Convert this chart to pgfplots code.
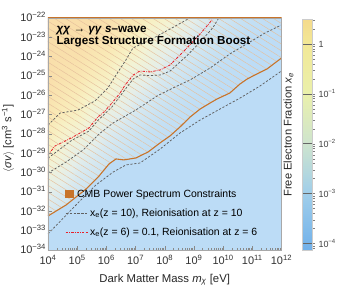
\documentclass[border=0pt]{standalone}
\usepackage{fontspec}
\setmainfont{Liberation Sans}
\usepackage{pgfplots}
\pgfplotsset{compat=1.18}
\usetikzlibrary{patterns.meta}

\definecolor{cmb}{HTML}{C8742A}
\definecolor{hatchc}{HTML}{E6C09C}
\definecolor{dashcol}{HTML}{606060}
\definecolor{redc}{HTML}{E8202A}
\definecolor{bgblue}{HTML}{BCDCF6}
\definecolor{framec}{HTML}{A8A8A8}
\definecolor{tickc}{HTML}{8A8A8A}

\tikzset{dashc/.style={color=dashcol, line width=0.75bp, dash pattern=on 2.2bp off 1.7bp},
         redd/.style={color=redc, line width=0.85bp, dash pattern=on 2.4bp off 1.2bp on 0.6bp off 1.2bp}}

\pgfplotsset{
 colormap={light}{rgb255(0pt)=(188,220,246); rgb255(83pt)=(198,225,243); rgb255(163pt)=(214,232,240);
   rgb255(213pt)=(228,238,234); rgb255(313pt)=(242,243,214); rgb255(363pt)=(247,241,198);
   rgb255(413pt)=(249,233,182); rgb255(463pt)=(249,222,170)},
 colormap={cbar}{rgb255(0pt)=(112,176,234); rgb255(13pt)=(118,180,234); rgb255(113pt)=(160,206,234);
   rgb255(213pt)=(206,228,206); rgb255(313pt)=(234,240,172); rgb255(413pt)=(242,232,150);
   rgb255(463pt)=(244,218,140)}
}

\def\xminors{3.95}
\foreach \n in {4,...,11}{%
  \foreach \k in {0.30103,0.47712,0.60206,0.69897,0.77815,0.84510,0.90309,0.95424}{%
    \pgfmathparse{\n+\k}\xdef\xminors{\xminors,\pgfmathresult}}}
\def\cminors{-5}
\foreach \n in {-5,...,0}{%
  \foreach \k in {0.30103,0.47712,0.60206,0.69897,0.77815,0.84510,0.90309,0.95424}{%
    \pgfmathparse{\n+\k}\xdef\cminors{\cminors,\pgfmathresult}}}

\begin{document}
\begin{tikzpicture}
\begin{axis}[
  name=ax, scale only axis, width=233.5bp, height=232bp,
  xmin=4, xmax=12, ymin=-34, ymax=-22,
  axis on top,
  xtick={4,...,12},
  xticklabels={10\textsuperscript{4},10\textsuperscript{5},10\textsuperscript{6},10\textsuperscript{7},10\textsuperscript{8},10\textsuperscript{9},10\textsuperscript{10},10\textsuperscript{11},10\textsuperscript{12}},
  minor xtick/.expand once=\xminors,
  ytick={-34,-33,...,-22},
  yticklabels={10\textsuperscript{−34},10\textsuperscript{−33},10\textsuperscript{−32},10\textsuperscript{−31},10\textsuperscript{−30},10\textsuperscript{−29},10\textsuperscript{−28},10\textsuperscript{−27},10\textsuperscript{−26},10\textsuperscript{−25},10\textsuperscript{−24},10\textsuperscript{−23},10\textsuperscript{−22}},
  tick align=inside, tick pos=left,
  major tick length=4bp, minor tick length=2.2bp,
  tick style={tickc, line width=0.5bp},
  axis line style={framec, line width=0.6bp},
  every tick label/.append style={font=\fontsize{11}{13}\selectfont, text=black!80},
  yticklabel style={xshift=1.5bp, yshift=0.8bp},
  xticklabel style={yshift=-1.5bp},
  every axis x label/.style={at={(axis description cs:0.5,-0.138)}, anchor=base, font=\fontsize{11.4}{13}\selectfont, text=black!85},
  every axis y label/.style={at={(axis description cs:-0.171,0.48)}, anchor=center, rotate=90, font=\fontsize{11.2}{13}\selectfont, text=black!85},
  xlabel={Dark Matter Mass \textit{m}\textsubscript{\textit{χ}} [eV]},
  ylabel={$\langle$\textit{σv}$\rangle$ [cm\textsuperscript{3} s\textsuperscript{−1}]},
  colormap name=cbar,
  point meta min=-4.13, point meta max=0.5,
  colorbar,
  colorbar style={
    at={(parent axis.north east)}, anchor=north west,
    xshift=12.5bp, yshift=-1bp,
    scale only axis, width=10bp, height=231bp,
    xtick=\empty,
    ytick={-4,-3,-2,-1,0},
    yticklabels={10\textsuperscript{−4},10\textsuperscript{−3},10\textsuperscript{−2},10\textsuperscript{−1},1},
    minor ytick/.expand once=\cminors,
    ymajorgrids, major grid style={black!60, line width=0.6bp},
    tick align=outside, major tick length=2.5bp, minor tick length=2bp,
    ytick pos=right, yticklabel pos=right,
    tick style={black!50, line width=0.4bp},
    axis line style={draw=black!20, line width=0.4bp},
    yticklabel style={font=\fontsize{9}{10}\selectfont, text=black!75},
    every axis y label/.style={at={(axis description cs:-1.4,0.5)}, anchor=center, rotate=90, font=\fontsize{11.2}{13}\selectfont, text=black!85},
    ylabel={Free Electron Fraction \textit{x}\textsubscript{\textit{e}}},
  },
  legend cell align=left,
  legend style={draw=none, fill=none, at={(0.0728,0.27)}, anchor=north west, inner sep=0pt,
    font=\fontsize{10.5}{12}\selectfont, row sep=6bp},
]
% colour field of x_e
\addplot[surf, shader=interp, mesh/ordering=y varies, point meta=explicit, colormap name=light, forget plot]
 table[x=lx, y=ly, meta=L] {
lx ly L
4 -34 -3.30
4 -33 -2.87
4 -32 -2.43
4 -31 -2.00
4 -30 -1.25
4 -29 -0.50
4 -28 -0.18
4 -27 0.14
4 -26 0.37
4 -25 0.50
4 -24 0.50
4 -23 0.50
4 -22 0.50

5 -34 -4.02
5 -33 -3.62
5 -32 -3.21
5 -31 -2.78
5 -30 -2.35
5 -29 -1.85
5 -28 -1.10
5 -27 -0.44
5 -26 -0.12
5 -25 0.20
5 -24 0.39
5 -23 0.50
5 -22 0.50

6 -34 -4.10
6 -33 -4.10
6 -32 -3.94
6 -31 -3.54
6 -30 -3.13
6 -29 -2.69
6 -28 -2.26
6 -27 -1.70
6 -26 -0.95
6 -25 -0.37
6 -24 -0.05
6 -23 0.27
6 -22 0.42

7 -34 -4.10
7 -33 -4.10
7 -32 -4.10
7 -31 -4.10
7 -30 -3.86
7 -29 -3.46
7 -28 -3.04
7 -27 -2.61
7 -26 -2.17
7 -25 -1.55
7 -24 -0.80
7 -23 -0.31
7 -22 0.01

8 -34 -4.10
8 -33 -4.10
8 -32 -4.10
8 -31 -4.10
8 -30 -4.10
8 -29 -4.10
8 -28 -3.78
8 -27 -3.38
8 -26 -2.95
8 -25 -2.52
8 -24 -2.09
8 -23 -1.40
8 -22 -0.65

9 -34 -4.10
9 -33 -4.10
9 -32 -4.10
9 -31 -4.10
9 -30 -4.10
9 -29 -4.10
9 -28 -4.10
9 -27 -4.10
9 -26 -3.70
9 -25 -3.30
9 -24 -2.87
9 -23 -2.43
9 -22 -2.00

10 -34 -4.10
10 -33 -4.10
10 -32 -4.10
10 -31 -4.10
10 -30 -4.10
10 -29 -4.10
10 -28 -4.10
10 -27 -4.10
10 -26 -4.10
10 -25 -4.02
10 -24 -3.62
10 -23 -3.21
10 -22 -2.78

11 -34 -4.10
11 -33 -4.10
11 -32 -4.10
11 -31 -4.10
11 -30 -4.10
11 -29 -4.10
11 -28 -4.10
11 -27 -4.10
11 -26 -4.10
11 -25 -4.10
11 -24 -4.10
11 -23 -3.94
11 -22 -3.54

12 -34 -4.10
12 -33 -4.10
12 -32 -4.10
12 -31 -4.10
12 -30 -4.10
12 -29 -4.10
12 -28 -4.10
12 -27 -4.10
12 -26 -4.10
12 -25 -4.10
12 -24 -4.10
12 -23 -4.10
12 -22 -4.10
};
% allowed region (below the CMB limit)
\addplot[draw=none, fill=bgblue, forget plot] coordinates {(4,-34) (4.00,-32.24) (4.62,-31.67) (5.30,-30.85) (5.75,-30.17) (6.09,-29.55) (6.33,-29.29) (6.60,-29.34) (7.01,-29.24) (7.43,-28.93) (7.84,-28.46) (8.18,-28.10) (8.52,-27.64) (8.87,-27.12) (9.21,-26.71) (9.55,-26.40) (9.79,-26.19) (10.23,-25.88) (10.58,-25.41) (10.82,-25.16) (11.02,-25.00) (11.50,-24.64) (12.00,-24.07) (12,-34)} -- cycle;
% excluded region hatching
\addplot[draw=none, pattern={Lines[angle=-32,distance=5.8bp,line width=0.45bp]}, pattern color=hatchc, forget plot] coordinates {(4,-22) (4.00,-32.24) (4.62,-31.67) (5.30,-30.85) (5.75,-30.17) (6.09,-29.55) (6.33,-29.29) (6.60,-29.34) (7.01,-29.24) (7.43,-28.93) (7.84,-28.46) (8.18,-28.10) (8.52,-27.64) (8.87,-27.12) (9.21,-26.71) (9.55,-26.40) (9.79,-26.19) (10.23,-25.88) (10.58,-25.41) (10.82,-25.16) (11.02,-25.00) (11.50,-24.64) (12.00,-24.07) (12,-22)} -- cycle;
% border of excluded region along the frame
\addplot[cmb, line width=2bp, forget plot] coordinates {(4,-32.24) (4,-22) (12,-22)};
% CMB constraint
\addplot[cmb, line width=1.1bp, legend image code/.code={\fill[cmb] (0bp,-3.6bp) rectangle (7.5bp,3.6bp);}] coordinates {(4.00,-32.24) (4.62,-31.67) (5.30,-30.85) (5.75,-30.17) (6.09,-29.55) (6.33,-29.29) (6.60,-29.34) (7.01,-29.24) (7.43,-28.93) (7.84,-28.46) (8.18,-28.10) (8.52,-27.64) (8.87,-27.12) (9.21,-26.71) (9.55,-26.40) (9.79,-26.19) (10.23,-25.88) (10.58,-25.41) (10.82,-25.16) (11.02,-25.00) (11.50,-24.64) (12.00,-24.07)};
\addlegendentry{\hspace*{-13bp}CMB Power Spectrum Constraints}
% x_e(z=10) contours
\addplot[dashc, legend image code/.code={\draw[dashc] (0bp,0bp) -- (22bp,0bp);}] coordinates {(4.00,-33.17) (4.96,-31.67) (5.64,-30.64) (6.23,-29.97) (6.67,-29.60) (7.15,-29.50) (7.84,-28.78) (8.52,-27.95) (9.21,-27.28) (9.89,-26.71) (10.58,-26.14) (11.26,-25.52) (12.00,-24.74)};
\addlegendentry{x\textsubscript{e}(z = 10), Reionisation at z = 10}
\addplot[dashc, forget plot] coordinates {(4.00,-30.02) (4.62,-29.45) (5.20,-28.83) (5.75,-28.00) (6.23,-27.43) (7.01,-26.76) (7.73,-26.04) (8.28,-25.62) (8.86,-25.21) (9.55,-24.59) (10.23,-23.86) (10.92,-23.24) (11.43,-22.78) (12.00,-22.36)};
\addplot[dashc, forget plot] coordinates {(4.00,-29.25) (4.79,-28.35) (5.40,-27.85) (5.71,-27.30) (6.19,-26.60) (6.64,-25.70) (6.92,-25.15) (7.15,-24.95) (7.49,-24.98) (7.84,-24.95) (8.18,-24.75) (8.76,-23.95) (9.21,-23.25) (9.65,-22.50) (9.85,-22.00)};
\addplot[dashc, forget plot] coordinates {(4.00,-27.54) (4.41,-26.92) (5.03,-26.76) (5.61,-26.29) (6.05,-25.62) (6.40,-24.79) (6.67,-24.17) (6.91,-23.55) (7.49,-23.14) (8.18,-22.57) (8.86,-22.00)};
% x_e(z=6) = 0.1
\addplot[redd, legend image code/.code={\draw[redd] (0bp,0bp) -- (22bp,0bp);}] coordinates {(4.00,-29.09) (4.24,-28.62) (4.79,-28.21) (5.40,-27.69) (5.71,-27.12) (5.92,-26.86) (6.19,-26.40) (6.47,-25.88) (6.64,-25.47) (6.92,-24.95) (7.15,-24.74) (7.49,-24.79) (7.84,-24.69) (8.18,-24.43) (8.76,-23.55) (9.21,-22.83) (9.65,-22.05)};
\addlegendentry{x\textsubscript{e}(z = 6) = 0.1, Reionisation at z = 6}
% title
\node[anchor=north west, inner sep=0pt, align=left, font=\bfseries\fontsize{11.7}{10.2}\selectfont] at (rel axis cs:0.036,0.966)
  {\textit{χχ} → \textit{γγ} \textit{s}–wave\\Largest Structure Formation Boost};
\end{axis}
\pgfresetboundingbox
\path[use as bounding box] ([shift={(-48bp,-49bp)}]ax.south west) rectangle ([shift={(58.5bp,18bp)}]ax.north east);
\end{tikzpicture}
\end{document}
